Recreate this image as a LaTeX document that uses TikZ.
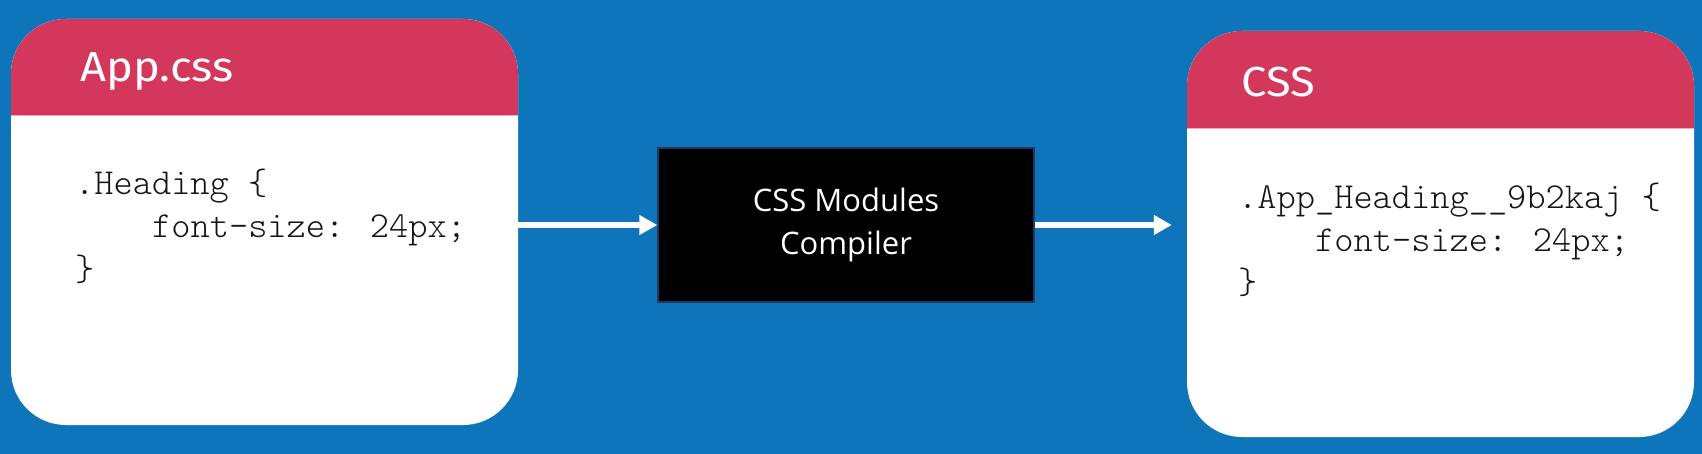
\documentclass[tikz,border=0pt]{standalone}
\usepackage{fontspec}
\newfontfamily\titlefont[FakeStretch=1.08]{Fira Sans}
\newfontfamily\boxfont{Open Sans}
\newfontfamily\codefont{lmmonolt10-regular.otf}
\usetikzlibrary{arrows.meta}
\definecolor{bgblue}{RGB}{14,117,187}
\definecolor{hdrred}{RGB}{212,55,92}
\definecolor{hdrline}{RGB}{247,168,188}
\definecolor{boxborder}{RGB}{31,56,100}
\definecolor{codeink}{RGB}{20,20,20}
\tikzset{
  card/.style={rectangle, rounded corners=55pt, fill=white, minimum width=507pt, minimum height=406pt, inner sep=0pt},
  cardtitle/.style={anchor=base west, inner sep=0pt, text=white, font=\titlefont\fontsize{42}{50}\selectfont},
  codeline/.style={anchor=base west, inner sep=0pt, text=codeink, font=\codefont\fontsize{36.6}{44}\selectfont},
  compbox/.style={rectangle, fill=black, draw=boxborder, line width=1.5pt, minimum width=376pt, minimum height=154pt, align=center, text=white, font=\boxfont\fontsize{31}{43}\selectfont},
  flow/.style={draw=white, line width=6pt, -{Triangle[length=18pt,width=19pt]}}
}
\begin{document}
\begin{tikzpicture}[x=1pt,y=-1pt]
\fill[bgblue] (0,0) rectangle (1702,454);
\useasboundingbox (0,0) rectangle (1702,454);
% left card
\node[card] (L) at (264.5,222) {};
\begin{scope}
\clip[rounded corners=55pt] (11,19) rectangle (518,425);
\fill[hdrred] (11,19) rectangle (518,115);
\end{scope}
\draw[hdrline, line width=1.5pt] (11,115.5) -- (518,115.5);
\node[cardtitle] (Lt) at (80,82) {App.css};
\node[codeline] (L1) at (75,195) {.Heading \{};
\node[codeline] (L2) at (152,238) {font-size: 24px;};
\node[codeline] (L3) at (75,280) {\}};
% right card
\node[card] (R) at (1440.5,234) {};
\begin{scope}
\clip[rounded corners=55pt] (1187,31) rectangle (1694,437);
\fill[hdrred] (1187,31) rectangle (1694,128);
\end{scope}
\draw[hdrline, line width=1.5pt] (1187,128.5) -- (1694,128.5);
\node[cardtitle] (Rt) at (1241,97) {CSS};
\node[codeline] (R1) at (1238,209) {.App\_Heading\_\_9b2kaj \{};
\node[codeline] (R2) at (1315,252) {font-size: 24px;};
\node[codeline] (R3) at (1238,294) {\}};
% compiler
\node[compbox] (C) at (846,225) {CSS Modules\\Compiler};
% arrows
\draw[flow] (L.east |- C.west) -- (C.west);
\draw[flow, shorten >=15pt] (C.east) -- (R.west |- C.east);
\end{tikzpicture}
\end{document}
